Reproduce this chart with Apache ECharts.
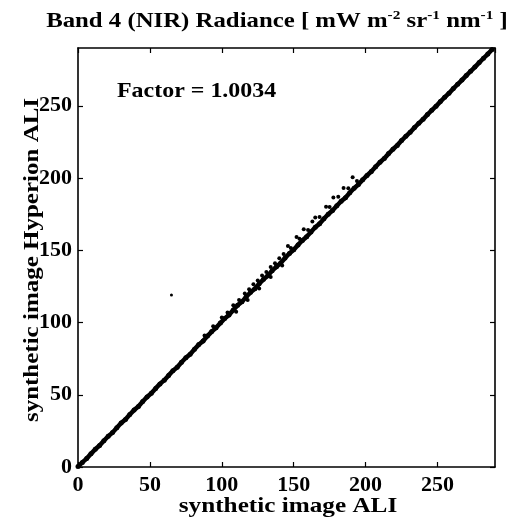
<!DOCTYPE html>
<html>
<head>
<meta charset="utf-8">
<script src="https://cdn.jsdelivr.net/npm/echarts@6/dist/echarts.min.js"></script>
<style>html,body{margin:0;padding:0;background:#fff}#c{width:518px;height:522px}</style>
</head>
<body>
<div id="c"></div>
<script>
// Main band: synthetic image ALI (x) vs synthetic image Hyperion ALI (y)
const bandX = [0,3,6,9,12,15,18,21,24,27,30,33,36,39,42,45,48,51,54,57,60,63,66,69,72,75,78,81,84,87,90,93,96,99,102,105,108,111,114,117,120,123,126,129,132,135,138,141,144,147,150,153,156,159,162,165,168,171,174,177,180,183,186,189,192,195,198,201,204,207,210,213,216,219,222,225,228,231,234,237,240,243,246,249,252,255,258,261,264,267,270,273,276,279,282,285,288];
const bandY = [0.3,3.2,5.8,9.1,12.3,14.9,18.2,21.3,23.8,27.2,30.4,32.9,36.3,39.4,41.9,45.3,48.5,51.0,54.4,57.5,60.1,63.4,66.6,69.0,72.5,75.6,78.1,81.5,84.7,87.2,90.6,93.7,96.3,99.6,102.8,105.2,108.7,111.9,114.3,117.8,120.9,123.3,126.8,129.9,132.4,135.9,138.6,141.2,144.7,147.8,150.3,153.7,156.8,159.4,162.7,165.9,168.4,171.8,174.9,177.5,180.8,183.9,186.4,189.8,192.9,195.5,198.8,201.8,204.5,207.8,210.9,213.6,216.9,219.9,222.6,225.9,228.9,231.7,234.9,237.9,240.7,243.9,246.9,249.7,252.9,255.9,258.7,261.9,264.9,267.8,270.9,273.9,276.8,279.9,282.9,285.8,289.0];
// Scattered points off the band
const scatterX = [88,94,100,104,108,112,116,119,122,125,128,131,134,137,140,143,146,148,152,154,157,160,163,165,168,172.5,175,177.6,181,184.7,188,191,194,110,118,126,134,142];
const scatterY = [91,97.5,103.5,107,112,115.5,120,123,126.5,129,132.5,135,138.5,141,144.5,147.5,153,151.5,159.2,158,164.6,164,170,172.7,173,180.1,180,186.6,187,193.1,193,200.5,198,107.5,115.5,123.5,131.5,139.5];
// Isolated outlier
const outlierX = [65];
const outlierY = [119];

const axisMin = 0, axisMax = 290, axisStep = 50;
const titleText = 'Band 4 (NIR) Radiance [ mW m{s|-2} sr{s|-1} nm{s|-1} ]';
const xName = 'synthetic image ALI';
const yName = 'synthetic image Hyperion ALI';
const factorText = 'Factor = 1.0034';

const zip = (a, b) => a.map((v, i) => [v, b[i]]);
const serif = '"Liberation Serif", "DejaVu Serif", serif';

const chart = echarts.init(document.getElementById('c'));
const baseAxis = {
  min: axisMin, max: axisMax, interval: axisStep,
  axisLine: { show: true, onZero: false, lineStyle: { color: '#000', width: 1.6 } },
  axisTick: { show: true, inside: true, length: 5, lineStyle: { color: '#000', width: 1.2 } },
  splitLine: { show: false }
};
const tickFont = { fontFamily: serif, fontWeight: 'bold', fontSize: 22, color: '#000' };
chart.setOption({
  animation: false,
  backgroundColor: '#fff',
  grid: { left: 78, right: 23, top: 48, bottom: 55 },
  xAxis: [
    Object.assign({}, baseAxis, {
      type: 'value', position: 'bottom',
      axisLabel: Object.assign({ margin: 7, showMaxLabel: false }, tickFont)
    }),
    Object.assign({}, baseAxis, { type: 'value', position: 'top', axisLabel: { show: false } })
  ],
  yAxis: [
    Object.assign({}, baseAxis, {
      type: 'value', position: 'left',
      axisLabel: Object.assign({ margin: 6, showMaxLabel: false }, tickFont)
    }),
    Object.assign({}, baseAxis, { type: 'value', position: 'right', axisLabel: { show: false } })
  ],
  graphic: [
    {
      type: 'text', x: 277, y: 22, scaleX: 1.18,
      style: {
        text: titleText, fontFamily: serif, fontWeight: 'bold', fontSize: 21, fill: '#000',
        align: 'center', verticalAlign: 'middle', lineHeight: 26,
        rich: { s: { fontFamily: serif, fontWeight: 'bold', fontSize: 13, fill: '#000', verticalAlign: 'top', lineHeight: 26 } }
      }
    },
    {
      type: 'text', x: 117, y: 92, scaleX: 1.14,
      style: { text: factorText, fontFamily: serif, fontWeight: 'bold', fontSize: 21, fill: '#000', align: 'left', verticalAlign: 'middle' }
    },
    {
      type: 'text', x: 288, y: 507, scaleX: 1.2,
      style: { text: xName, fontFamily: serif, fontWeight: 'bold', fontSize: 21, fill: '#000', align: 'center', verticalAlign: 'middle' }
    },
    {
      type: 'text', x: 33, y: 260, rotation: Math.PI / 2, scaleX: 1.19,
      style: { text: yName, fontFamily: serif, fontWeight: 'bold', fontSize: 21, fill: '#000', align: 'center', verticalAlign: 'middle' }
    }
  ],
  series: [
    { type: 'line', data: zip(bandX, bandY), xAxisIndex: 0, yAxisIndex: 0, showSymbol: false, symbol: 'none',
      lineStyle: { color: '#000', width: 4.5 }, z: 2 },
    { type: 'scatter', data: zip(bandX, bandY), symbolSize: 5, itemStyle: { color: '#000', opacity: 1 } },
    { type: 'scatter', data: zip(scatterX, scatterY), symbolSize: 4, itemStyle: { color: '#000', opacity: 1 } },
    { type: 'scatter', data: zip(outlierX, outlierY), symbolSize: 3, itemStyle: { color: '#000', opacity: 1 } }
  ]
});
</script>
</body>
</html>
